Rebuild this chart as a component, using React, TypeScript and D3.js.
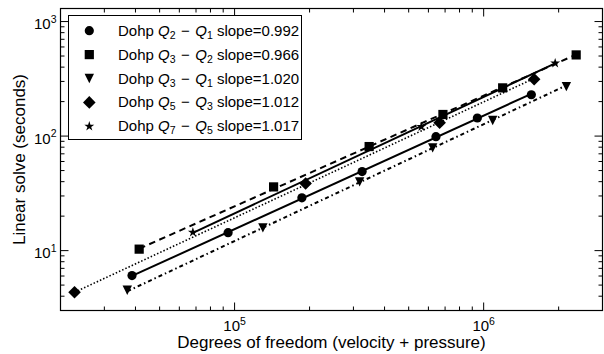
import React from 'react';
import * as d3 from 'd3';

// Degrees of freedom (x) and linear solve seconds (y) per series
const q21X = [38740, 94170, 186300, 325100, 643300, 943400, 1554000];
const q21Y = [6.05, 14.34, 28.9, 49.0, 98.8, 143.9, 229.6];
const q32X = [41390, 143400, 346900, 686200, 1192000, 2352000];
const q32Y = [10.3, 36.0, 81.0, 154.4, 263.6, 511.3];
const q31X = [37080, 129900, 317700, 624100, 1087000, 2148000];
const q31Y = [4.51, 15.8, 39.8, 78.96, 136.9, 270.5];
const q53X = [22770, 192800, 665700, 1595000];
const q53Y = [4.33, 38.6, 130.8, 313.2];
const q75X = [68000, 562100, 1937000];
const q75Y = [14.45, 120.7, 433];

const qHigh = ['2', '3', '3', '5', '7'];
const qLow = ['1', '2', '1', '3', '5'];
const slopes = ['0.992', '0.966', '1.020', '1.012', '1.017'];
const markers = ['circle', 'square', 'triangle', 'diamond', 'star'];
const dashes = ['', '6.5,4.5', '4,3,1.5,3', '1.5,2', ''];
const widths = [2, 2, 2, 1.6, 2];

const xTickMajor = [1e5, 1e6];
const xTickMajorExp = ['5', '6'];
const yTickMajor = [1e1, 1e2, 1e3];
const yTickMajorExp = ['1', '2', '3'];

const xData = [q21X, q32X, q31X, q53X, q75X];
const yData = [q21Y, q32Y, q31Y, q53Y, q75Y];

const W = 604, H = 354;
const L = 60.5, R = 602.5, T = 8.5, B = 310.5;
const FONT = '"Liberation Sans", Arial, Helvetica, sans-serif';

function markerPath(kind: string, cx: number, cy: number): string {
  if (kind === 'circle') {
    const r = 4.6;
    return `M${cx - r},${cy}a${r},${r} 0 1,0 ${2 * r},0a${r},${r} 0 1,0 ${-2 * r},0Z`;
  }
  if (kind === 'square') {
    const h = 4.6;
    return `M${cx - h},${cy - h}h${2 * h}v${2 * h}h${-2 * h}Z`;
  }
  if (kind === 'triangle') {
    const h = 4.7;
    return `M${cx - h},${cy - h}L${cx + h},${cy - h}L${cx},${cy + h}Z`;
  }
  if (kind === 'diamond') {
    const h = 6.3;
    return `M${cx},${cy - h}L${cx + h},${cy}L${cx},${cy + h}L${cx - h},${cy}Z`;
  }
  // star
  const ro = 5.2, ri = ro * 0.382;
  const pts: string[] = [];
  for (let i = 0; i < 10; i++) {
    const r = i % 2 === 0 ? ro : ri;
    const a = -Math.PI / 2 + (i * Math.PI) / 5;
    pts.push(`${cx + r * Math.cos(a)},${cy + r * Math.sin(a)}`);
  }
  return 'M' + pts.join('L') + 'Z';
}

export default function App() {
  const x = d3.scaleLog().domain([2e4, 3e6]).range([L, R]);
  const y = d3.scaleLog().domain([3, 1300]).range([B, T]);

  const xMinor: number[] = [];
  for (const dec of [1e4, 1e5, 1e6]) {
    for (let k = 2; k <= 9; k++) {
      const v = k * dec;
      if (v >= 2e4 && v <= 3e6) xMinor.push(v);
    }
  }
  const yMinor: number[] = [];
  for (const dec of [1, 10, 100, 1000]) {
    for (let k = 2; k <= 9; k++) {
      const v = k * dec;
      if (v >= 3 && v <= 1300) yMinor.push(v);
    }
  }

  const line = d3
    .line<[number, number]>()
    .x((d) => x(d[0]))
    .y((d) => y(d[1]));

  const fits = xData.map((xs, i) => {
    const s = parseFloat(slopes[i]);
    const b = d3.mean(xs.map((xv, j) => Math.log10(yData[i][j]) - s * Math.log10(xv))) as number;
    const x0 = d3.min(xs) as number;
    const x1 = d3.max(xs) as number;
    return [
      [x0, Math.pow(10, b + s * Math.log10(x0))],
      [x1, Math.pow(10, b + s * Math.log10(x1))],
    ] as [number, number][];
  });

  const legX = 68.5, legY = 15.5, legW = 233, legH = 124;
  const rowY = (i: number) => 30.7 + i * 23.9;

  return (
    <svg width={W} height={H} style={{ position: 'absolute', left: 0, top: 0, background: '#fff' }} fontFamily={FONT}>
      <rect x={0} y={0} width={W} height={H} fill="#fff" />
      {/* fit lines */}
      {fits.map((f, i) => (
        <path key={'l' + i} d={line(f) || ''} fill="none" stroke="#000" strokeWidth={widths[i]}
          strokeDasharray={dashes[i] || undefined} />
      ))}
      {/* markers */}
      {xData.map((xs, i) =>
        xs.map((xv, j) => (
          <path key={`m${i}-${j}`} d={markerPath(markers[i], x(xv), y(yData[i][j]))} fill="#000" />
        ))
      )}
      {/* ticks */}
      <g stroke="#000" strokeWidth={1}>
        {xTickMajor.map((v) => (
          <g key={'xM' + v}>
            <line x1={x(v)} x2={x(v)} y1={B} y2={B - 8} />
            <line x1={x(v)} x2={x(v)} y1={T} y2={T + 8} />
          </g>
        ))}
        {xMinor.map((v) => (
          <g key={'xm' + v}>
            <line x1={x(v)} x2={x(v)} y1={B} y2={B - 4} />
            <line x1={x(v)} x2={x(v)} y1={T} y2={T + 4} />
          </g>
        ))}
        {yTickMajor.map((v) => (
          <g key={'yM' + v}>
            <line x1={L} x2={L + 8} y1={y(v)} y2={y(v)} />
            <line x1={R} x2={R - 8} y1={y(v)} y2={y(v)} />
          </g>
        ))}
        {yMinor.map((v) => (
          <g key={'ym' + v}>
            <line x1={L} x2={L + 4} y1={y(v)} y2={y(v)} />
            <line x1={R} x2={R - 4} y1={y(v)} y2={y(v)} />
          </g>
        ))}
      </g>
      {/* frame */}
      <rect x={L} y={T} width={R - L} height={B - T} fill="none" stroke="#000" strokeWidth={1.2} />
      {/* tick labels */}
      {xTickMajor.map((v, i) => (
        <text key={'xl' + v} x={x(v)} y={331} textAnchor="middle" fontSize={15}>
          10<tspan dy={-6.5} fontSize={10.5}>{xTickMajorExp[i]}</tspan>
        </text>
      ))}
      {yTickMajor.map((v, i) => (
        <text key={'yl' + v} x={56.5} y={y(v) + 7.5} textAnchor="end" fontSize={15}>
          10<tspan dy={-6.5} fontSize={10.5}>{yTickMajorExp[i]}</tspan>
        </text>
      ))}
      {/* axis labels */}
      <text x={(L + R) / 2} y={347.5} textAnchor="middle" fontSize={17}>
        Degrees of freedom (velocity + pressure)
      </text>
      <text transform={`translate(25,${(T + B) / 2}) rotate(-90)`} textAnchor="middle" fontSize={17}>
        Linear solve (seconds)
      </text>
      {/* legend */}
      <rect x={legX} y={legY} width={legW} height={legH} fill="#fff" stroke="#000" strokeWidth={1} />
      {slopes.map((s, i) => (
        <g key={'lg' + i}>
          <path d={markerPath(markers[i], 89.3, rowY(i))} fill="#000" />
          <text x={118} y={rowY(i) + 5} fontSize={15}>
            {'Dohp '}
            <tspan fontStyle="italic">Q</tspan>
            <tspan fontSize={10.5} dy={3}>{qHigh[i]}</tspan>
            <tspan dy={-3} dx={1.3}>{' \u2212 '}</tspan>
            <tspan fontStyle="italic" dx={1.3}>Q</tspan>
            <tspan fontSize={10.5} dy={3}>{qLow[i]}</tspan>
            <tspan dy={-3}>{' slope=' + s}</tspan>
          </text>
        </g>
      ))}
    </svg>
  );
}
